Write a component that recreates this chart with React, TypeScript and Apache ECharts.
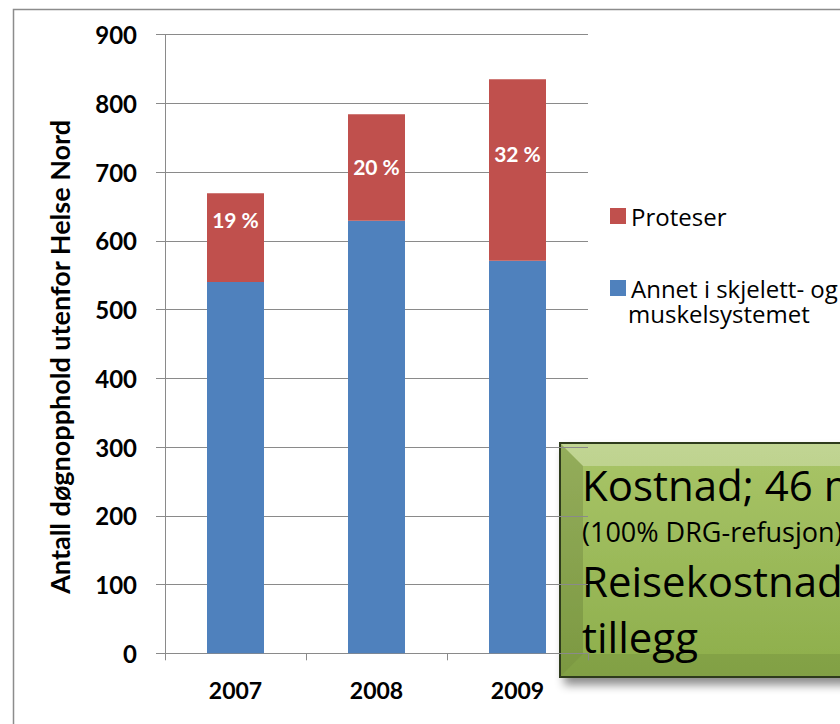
import React, { useEffect, useRef } from "react";
import * as echarts from "echarts";

const years = ["2007", "2008", "2009"];
const annet = [540, 629, 571];
const proteser = [129, 155, 264];
const shareLabels = ["19 %", "20 %", "32 %"];
const labelDistances = [16, 42, 64];
const yMax = 900;
const yInterval = 100;
const yAxisName = "Antall døgnopphold utenfor Helse Nord";
const seriesNames = ["Annet i skjelett- og muskelsystemet", "Proteser"];
const boxLines = ["Kostnad; 46 mill.", "(100% DRG-refusjon)", "Reisekostnader", "tillegg"];

const BLUE = "#4F81BD";
const RED = "#C0504D";
const GRID = "#8A8A8A";

export default function App() {
  const ref = useRef<HTMLDivElement>(null);
  useEffect(() => {
    if (!ref.current) return;
    const chart = echarts.init(ref.current, undefined, { renderer: "svg" });
    const option: any = {
      animation: false,
      backgroundColor: "#ffffff",
      grid: { left: 165, right: 252, top: 34.5, bottom: 70.7, containLabel: false },
      legend: {
        orient: "vertical",
        left: 605,
        top: 199,
        itemWidth: 16,
        itemHeight: 16,
        itemGap: 48,
        icon: "rect",
        data: [seriesNames[1], seriesNames[0]],
        formatter: (n: string) => (n === seriesNames[0] ? "Annet i skjelett- og" : n),
        textStyle: { fontFamily: "Open Sans", fontSize: 24, color: "#000", lineHeight: 22 },
      },
      xAxis: {
        type: "category",
        data: years,
        axisLine: { lineStyle: { color: GRID, width: 1 } },
        axisTick: { show: true, length: 7, lineStyle: { color: GRID } },
        axisLabel: { fontFamily: "Lato", fontWeight: "bold", fontSize: 23, color: "#000", margin: 25 },
      },
      yAxis: {
        type: "value",
        min: 0,
        max: yMax,
        interval: yInterval,
        name: yAxisName,
        nameLocation: "middle",
        nameGap: 92,
        nameTextStyle: {
          fontFamily: "Lato",
          fontWeight: "bold",
          fontSize: 27,
          color: "#000",
          padding: [0, 26, 0, 0],
        },
        axisLine: { show: true, lineStyle: { color: GRID, width: 1 } },
        axisTick: { show: true, length: 9, lineStyle: { color: GRID } },
        splitLine: { lineStyle: { color: GRID, width: 1 } },
        axisLabel: { fontFamily: "Lato", fontWeight: "bold", fontSize: 24, color: "#000", margin: 28 },
      },
      series: [
        {
          name: seriesNames[0],
          type: "bar",
          stack: "total",
          barWidth: 57,
          itemStyle: { color: BLUE },
          data: annet,
        },
        {
          name: seriesNames[1],
          type: "bar",
          stack: "total",
          barWidth: 57,
          itemStyle: { color: RED },
          data: proteser.map((v, i) => ({
            value: v,
            label: {
              show: true,
              position: "insideTop",
              distance: labelDistances[i],
              formatter: shareLabels[i],
              color: "#fff",
              fontFamily: "Lato",
              fontWeight: "bold",
              fontSize: 21,
              lineHeight: 21,
            },
          })),
        },
      ],
      graphic: [
        {
          type: "rect",
          z: -10,
          silent: true,
          shape: { x: 13.5, y: 9.5, width: 900, height: 800 },
          style: { fill: "none", stroke: "#8C8C8C", lineWidth: 1.5 },
        },
        {
          type: "text",
          left: 628,
          top: 301,
          style: { text: "muskelsystemet", fontFamily: "Open Sans", fontSize: 24, fill: "#000" },
        },
        {
          type: "group",
          z: 100,
          children: [
            {
              type: "rect",
              shape: { x: 560, y: 443, width: 320, height: 234 },
              style: {
                fill: new echarts.graphic.LinearGradient(0, 0, 0, 1, [
                  { offset: 0, color: "#A9C568" },
                  { offset: 1, color: "#8DAE4B" },
                ]),
                stroke: "#2F3A1C",
                lineWidth: 2,
                shadowBlur: 10,
                shadowOffsetX: 5,
                shadowOffsetY: 7,
                shadowColor: "rgba(0,0,0,0.45)",
              },
            },
            {
              type: "polygon",
              shape: { points: [[561, 444], [880, 444], [880, 466], [583, 466]] },
              style: { fill: "rgba(255,255,255,0.28)" },
            },
            {
              type: "polygon",
              shape: { points: [[561, 444], [583, 466], [583, 654], [561, 676]] },
              style: { fill: "rgba(0,0,0,0.12)" },
            },
            {
              type: "polygon",
              shape: { points: [[561, 676], [583, 654], [880, 654], [880, 676]] },
              style: { fill: "rgba(0,0,0,0.08)" },
            },
            {
              type: "text",
              x: 582,
              y: 484,
              style: { text: boxLines[0], fontFamily: "Open Sans", fontSize: 42, fill: "#000", verticalAlign: "middle" },
            },
            {
              type: "text",
              x: 582,
              y: 531,
              style: { text: boxLines[1], fontFamily: "Open Sans", fontSize: 27, fill: "#000", verticalAlign: "middle" },
            },
            {
              type: "text",
              x: 582,
              y: 580,
              style: { text: boxLines[2], fontFamily: "Open Sans", fontSize: 42, fill: "#000", verticalAlign: "middle" },
            },
            {
              type: "text",
              x: 582,
              y: 636,
              style: { text: boxLines[3], fontFamily: "Open Sans", fontSize: 42, fill: "#000", verticalAlign: "middle" },
            },
          ],
        },
      ],
    };
    chart.setOption(option);
    return () => chart.dispose();
  }, []);
  return <div ref={ref} style={{ width: 840, height: 724, position: "absolute", left: 0, top: 0 }} />;
}
